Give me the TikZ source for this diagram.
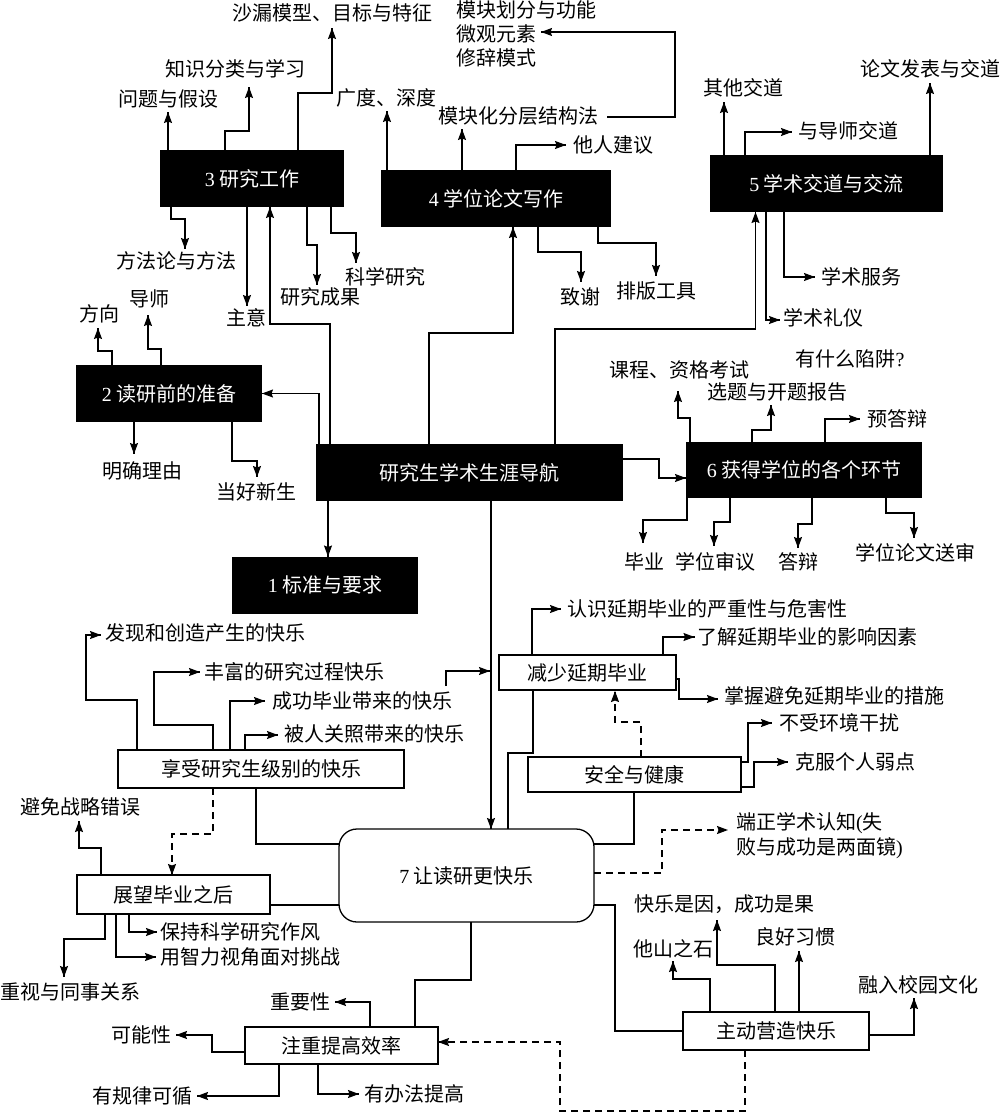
\documentclass[tikz,border=0pt]{standalone}
\usepackage{fontspec}
\setmainfont{Noto Sans CJK SC}
\newfontfamily\latinfont{Liberation Serif}
\usetikzlibrary{arrows.meta}
\usetikzlibrary{decorations.markings}
\tikzset{->/.style = {decoration={markings,
                                  mark=at position 1 with {\arrow{Stealth[length=11pt, width=8pt, inset=1.5pt]}}},
                      postaction={decorate}}}
\tikzset{dashline/.style = {dash pattern = on 7pt off 5pt}}
\tikzset{txt/.style = {inner sep = 1pt, outer sep = 2pt, text height = 16pt, text depth = 2pt}}
\tikzset{blackbox/.style = {fill = black, text = white, inner sep = 0, outer sep = 0,
                            minimum height = 57pt}}
\tikzset{whitebox/.style = {draw, fill = white, line width = 1.3pt, inner sep = 0, outer sep = 0}}

\begin{document}
\fontsize{20pt}{24pt}\selectfont
\begin{tikzpicture}[x = 1pt, y = -1pt, line width = 1.3pt]
    \useasboundingbox (0, 0) rectangle (1000, 1113);

    \node [blackbox, minimum width = 307pt] (nav) at (469.5, 472.5) {研究生学术生涯导航};
    \node [blackbox, minimum width = 186pt] (std) at (325, 585) {{\latinfont 1} 标准与要求};
    \node [blackbox, minimum width = 186pt] (prep) at (169, 393.5) {{\latinfont 2} 读研前的准备};
    \node [blackbox, minimum width = 184pt] (work) at (252, 178.5) {{\latinfont 3} 研究工作};
    \node [blackbox, minimum width = 230pt] (thesis) at (496, 198.5) {{\latinfont 4} 学位论文写作};
    \node [blackbox, minimum width = 233pt] (comm) at (826.5, 183.5) {{\latinfont 5} 学术交道与交流};
    \node [blackbox, minimum width = 236pt, minimum height = 56pt] (degree) at (804, 470) {{\latinfont 6} 获得学位的各个环节};
    \node [whitebox, rounded corners = 18pt, minimum width = 255pt, minimum height = 93pt] (happy) at (466.5, 875.5) {{\latinfont 7} 让读研更快乐};

    \node [whitebox, minimum width = 286pt, minimum height = 38pt] (enjoy) at (261, 769) {享受研究生级别的快乐};
    \node [whitebox, minimum width = 193pt, minimum height = 39pt] (outlook) at (173.5, 894.5) {展望毕业之后};
    \node [whitebox, minimum width = 193pt, minimum height = 37pt] (effic) at (341.5, 1045.5) {注重提高效率};
    \node [whitebox, minimum width = 177pt, minimum height = 35pt] (reduce) at (587.5, 672.5) {减少延期毕业};
    \node [whitebox, minimum width = 213pt, minimum height = 35pt] (safe) at (634.5, 774.5) {安全与健康};
    \node [whitebox, minimum width = 186pt, minimum height = 38pt] (create) at (776, 1031) {主动营造快乐};

    \node [txt] (sand) at (332, 14) {沙漏模型、目标与特征};
    \node [txt] (know) at (235, 70) {知识分类与学习};
    \node [txt] (ques) at (168, 100) {问题与假设};
    \node [txt] (method) at (176, 261) {方法论与方法};
    \node [txt] (idea) at (246, 318) {主意};
    \node [txt] (result) at (320, 297) {研究成果};
    \node [txt] (science) at (385, 277) {科学研究};

    \node [txt] (breadth) at (386, 99) {广度、深度};
    \node [txt] (layer) at (518, 117) {模块化分层结构法};
    \node [txt, anchor = west] (modu) at (453, 11) {模块划分与功能};
    \node [txt, anchor = west] (micro) at (453, 35) {微观元素};
    \node [txt, anchor = west] (rhet) at (453, 59) {修辞模式};
    \node [txt] (advice) at (613, 145) {他人建议};
    \node [txt] (thanks) at (580, 297) {致谢};
    \node [txt] (typeset) at (656, 291) {排版工具};

    \node [txt] (other) at (743, 89) {其他交道};
    \node [txt] (tutor) at (848, 132) {与导师交道};
    \node [txt] (publish) at (930, 70) {论文发表与交道};
    \node [txt] (service) at (861, 277) {学术服务};
    \node [txt] (etiq) at (823, 318) {学术礼仪};

    \node [txt] (dir) at (99.5, 314) {方向};
    \node [txt] (mentor) at (149, 299) {导师};
    \node [txt] (reason) at (142, 471) {明确理由};
    \node [txt] (fresh) at (256, 492) {当好新生};

    \node [txt] (trap) at (850, 359) {有什么陷阱{\latinfont ?}};
    \node [txt] (course) at (679, 370) {课程、资格考试};
    \node [txt] (topic) at (777, 392) {选题与开题报告};
    \node [txt] (pre) at (897, 419) {预答辩};
    \node [txt] (grad) at (644, 562) {毕业};
    \node [txt] (review) at (715, 562) {学位审议};
    \node [txt] (defense) at (798, 562) {答辩};
    \node [txt] (send) at (915, 553) {学位论文送审};

    \node [txt] (find) at (205, 633) {发现和创造产生的快乐};
    \node [txt] (rich) at (294.5, 672) {丰富的研究过程快乐};
    \node [txt] (succ) at (362, 701) {成功毕业带来的快乐};
    \node [txt] (care) at (374, 734) {被人关照带来的快乐};
    \node [txt] (avoid) at (80, 807) {避免战略错误};
    \node [txt] (keep) at (240, 932) {保持科学研究作风};
    \node [txt] (wise) at (250.5, 957) {用智力视角面对挑战};
    \node [txt] (colleague) at (70.5, 992) {重视与同事关系};
    \node [txt] (import) at (300.5, 1002) {重要性};
    \node [txt] (possible) at (141.5, 1035) {可能性};
    \node [txt] (rule) at (142.5, 1096) {有规律可循};
    \node [txt] (way) at (414.5, 1094) {有办法提高};

    \node [txt] (aware) at (707.5, 609) {认识延期毕业的严重性与危害性};
    \node [txt] (factor) at (807.5, 637) {了解延期毕业的影响因素};
    \node [txt] (measure) at (834, 696) {掌握避免延期毕业的措施};
    \node [txt] (calm) at (839, 723) {不受环境干扰};
    \node [txt] (weak) at (855.5, 762) {克服个人弱点};
    \node [txt, anchor = west] (cogn) at (733, 822) {端正学术认知{\latinfont (}失};
    \node [txt, anchor = west] (mirror) at (733, 847) {败与成功是两面镜{\latinfont )}};
    \node [txt] (cause) at (724, 904) {快乐是因，成功是果};
    \node [txt] (stone) at (673, 949) {他山之石};
    \node [txt] (habit) at (795.5, 937) {良好习惯};
    \node [txt] (culture) at (918, 985) {融入校园文化};

    \coordinate (hit) at (490, 671);

    \draw [->] ([xshift=14pt]nav.north west) -- ++(0, -120) -| ([xshift=18pt]work.south);
    \draw [->] ([xshift=113pt]nav.north west) -- ++(0, -111) -| ([xshift=17pt]thesis.south);
    \draw [->] ([xshift=239pt]nav.north west) -- ++(0, -115) -| ([xshift=-71pt]comm.south);
    \draw [->] ([xshift=3pt]nav.north west) |- (prep.east);
    \draw [->] ([xshift=12pt]nav.south west) -- ([xshift=3pt]std.north);
    \draw [->] ([xshift=21.5pt]nav.south) -- ([xshift=24.5pt]happy.north);
    \draw [->] ([yshift=-15pt]nav.north east) -- ++(36, 0) |- ([yshift=-8pt]degree.west);

    \draw [->] ([xshift=8pt]work.north west) -- (ques.south);
    \draw [->] ([xshift=65pt]work.north west) -- ++(0, -19) -| ([shift={(14pt,-5pt)}]know.south);
    \draw [->] ([xshift=138pt]work.north west) -- ++(0, -57) -| ([yshift=-2pt]sand.south);
    \draw [->] ([xshift=11pt]work.south west) -- ++(0, 12) -| ([xshift=9pt]method.north);
    \draw [->] ([xshift=87pt]work.south west) -- ([xshift=1pt]idea.north);
    \draw [->] ([xshift=147pt]work.south west) -- ++(0, 38) -| ([xshift=-3pt]result.north);
    \draw [->] ([xshift=171pt]work.south west) -- ++(0, 26) -| ([shift={(-29pt,2pt)}]science.north);

    \draw [->] ([xshift=6pt]thesis.north west) -- ([xshift=1pt]breadth.south);
    \draw [->] ([xshift=81pt]thesis.north west) -- ([xshift=-56pt]layer.south);
    \draw [->] ([xshift=135pt]thesis.north west) |- ([xshift=-4pt]advice.west);
    \draw [->] ([xshift=6pt]layer.east) -- ++(68, 0) |- ([shift={(2pt,3pt)}]micro.east);
    \draw [->] ([xshift=157pt]thesis.south west) -- ++(0, 25) -| ([shift={(1pt,3pt)}]thanks.north);
    \draw [->] ([xshift=217pt]thesis.south west) -- ++(0, 16) -| ([yshift=3pt]typeset.north);

    \draw [->] ([xshift=14pt]comm.north west) -- ([shift={(-19pt,-1pt)}]other.south);
    \draw [->] ([xshift=35pt]comm.north west) |- ([xshift=-3pt]tutor.west);
    \draw [->] ([xshift=220pt]comm.north west) -- ([yshift=-1pt]publish.south);
    \draw [->] ([xshift=74pt]comm.south west) |- ([xshift=-3pt]service.west);
    \draw [->] ([xshift=56pt]comm.south west) |- ([yshift=-2pt]etiq.west);

    \draw [->] ([xshift=36pt]prep.north west) -- ++(0, -14) -| ([shift={(-1.5pt,-2pt)}]dir.south);
    \draw [->] ([xshift=85pt]prep.north west) -- ++(0, -16) -| ([shift={(-1pt,-4pt)}]mentor.south);
    \draw [->] ([xshift=58pt]prep.south west) -- ([shift={(-8pt,5pt)}]reason.north);
    \draw [->] ([xshift=156pt]prep.south west) -- ++(0, 39) -| ([shift={(1pt,3pt)}]fresh.north);

    \draw [->] ([xshift=4pt]degree.north west) -- ++(0, -24) -| ([shift={(-1pt,-9pt)}]course.south);
    \draw [->] ([xshift=66pt]degree.north west) -- ++(0, -12) -| ([shift={(-6pt,-1pt)}]topic.south);
    \draw [->] ([xshift=139pt]degree.north west) |- ([xshift=-4pt]pre.west);
    \draw [->] ([xshift=1pt]degree.south west) -- ++(0, 22) -| ([shift={(-1pt,7pt)}]grad.north);
    \draw [->] ([xshift=44pt]degree.south west) -- ++(0, 24) -| ([shift={(-1pt,4pt)}]review.north);
    \draw [->] ([xshift=126pt]degree.south west) -- ++(0, 26) -| ([yshift=2pt]defense.north);
    \draw [->] ([xshift=200pt]degree.south west) -- ++(0, 15) -| ([shift={(-1pt,3pt)}]send.north);

    \draw ([xshift=-5pt]enjoy.south) |- ([yshift=31.5pt]happy.west);
    \draw ([yshift=-10.5pt]outlook.east) -- ([yshift=-29.5pt]happy.west);
    \draw ([xshift=4.5pt]happy.south) -- ++(0, 58) -| ([xshift=73.5pt]effic.north);
    \draw ([xshift=34pt]reduce.south west) -- ++(0, 63) -| ([xshift=41.5pt]happy.north);
    \draw ([xshift=106pt]safe.south west) |- ([yshift=31.5pt]happy.east);
    \draw ([yshift=-29.5pt]happy.east) -- ++(21, 0) |- (create.west);

    \draw [->, dashline] ([xshift=95pt]enjoy.south west) -- ++(0, 46) -| ([xshift=-1.5pt]outlook.north);
    \draw [->, dashline] ([xshift=62pt]create.south west) -- ++(0, 61) -- ++(-185, 0) |- ([yshift=3.5pt]effic.east);
    \draw [->, dashline] ([xshift=113pt]safe.north west) -- ++(0, -35) -| ([shift={(27.5pt,-1pt)}]reduce.south);
    \draw [->, dashline] ([yshift=2.5pt]happy.east) -- ++(68, 0) |- ([shift={(-5pt,-8pt)}]cogn.west);

    \draw [->] ([xshift=19pt]enjoy.north west) -- ++(0, -50) -- ++(-51, 0) |- ([shift={(-1pt,-2pt)}]find.west);
    \draw [->] ([xshift=95pt]enjoy.north west) -- ++(0, -25) -- ++(-59, 0) |- ([xshift=-1.5pt]rich.west);
    \draw [->] ([xshift=112pt]enjoy.north west) |- ([xshift=-4pt]succ.west);
    \draw [->] ([xshift=127pt]enjoy.north west) |- ([shift={(-3pt,-1pt)}]care.west);
    \draw [->] ([shift={(84pt,3pt)}]succ.north) |- (hit);

    \draw [->] ([xshift=24pt]outlook.north west) -- ++(0, -27) -| ([shift={(-1pt,-2pt)}]avoid.south);
    \draw [->] ([xshift=52pt]outlook.south west) |- (keep.west);
    \draw [->] ([xshift=39pt]outlook.south west) |- ([xshift=-1.5pt]wise.west);
    \draw [->] ([xshift=28pt]outlook.south west) -- ++(0, 25) -| ([shift={(-6.5pt,3pt)}]colleague.north);

    \draw [->] ([xshift=125pt]effic.north west) |- ([xshift=1.5pt]import.east);
    \draw [->] ([yshift=-6.5pt]effic.west) -- ++(-33, 0) |- ([xshift=1.5pt]possible.east);
    \draw [->] ([xshift=34pt]effic.south west) |- ([xshift=1.5pt]rule.east);
    \draw [->] ([xshift=73pt]effic.south west) |- ([xshift=-2.5pt]way.west);

    \draw [->] ([xshift=33pt]reduce.north west) |- ([xshift=-3.5pt]aware.west);
    \draw [->] ([xshift=164pt]reduce.north west) |- (factor.west);
    \draw [->] ([yshift=-6.5pt]reduce.east) -- ++(3, 0) |- ([shift={(-3pt,-3pt)}]measure.west);
    \draw [->] ([yshift=12.5pt]safe.east) -- ++(7, 0) |- ([xshift=-4pt]calm.west);
    \draw [->] ([yshift=-12.5pt]safe.east) -- ++(13, 0) |- ([xshift=-4.5pt]weak.west);

    \draw [->] ([xshift=92pt]create.north west) -- ++(0, -47) -| ([shift={(-7pt,-4pt)}]cause.south);
    \draw [->] ([xshift=27pt]create.north west) -- ++(0, -33) -| (stone.south);
    \draw [->] ([xshift=116pt]create.north west) -- ([shift={(3.5pt,-2pt)}]habit.south);
    \draw [->] ([yshift=-4pt]create.east) -| ([shift={(-4pt,-1pt)}]culture.south);
  \end{tikzpicture}
\end{document}
